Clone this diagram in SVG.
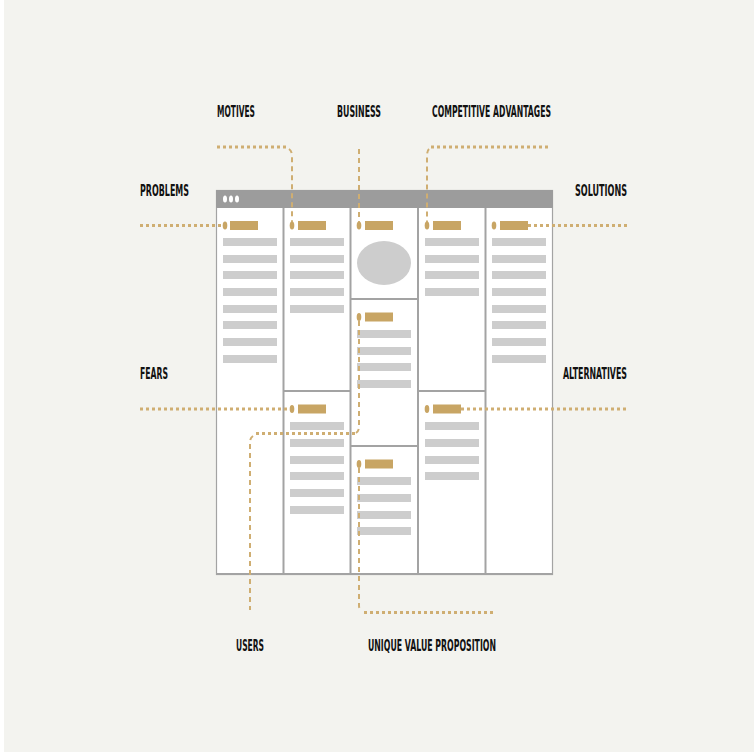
<svg xmlns="http://www.w3.org/2000/svg" width="754" height="753" viewBox="0 0 754 753">
<style>
.lbl{font-family:"DejaVu Sans Condensed","DejaVu Sans","Liberation Sans",sans-serif;font-weight:bold;font-size:16.5px;fill:#111}
.bar{fill:#cdcdcd}
.tag{fill:#c8a564}
.dot{fill:#c8a564}
.col{fill:#ffffff;stroke:#a3a3a3;stroke-width:1.2}
.div{stroke:#a3a3a3;stroke-width:2;fill:none}
.h{fill:none;stroke:#cfae72;stroke-width:3;stroke-dasharray:3 3}
.v{fill:none;stroke:#cfae72;stroke-width:2;stroke-dasharray:5 4}
</style>
<rect x="4" y="0" width="750" height="752" fill="#f3f3ef"/>

<g id="window">
  <rect x="216.5" y="190.5" width="336" height="384" class="col"/>
  <rect x="216" y="190" width="337" height="18" fill="#9c9c9c" rx="1"/>
  <ellipse cx="225" cy="199" rx="2" ry="3.5" fill="#fff"/>
  <ellipse cx="231" cy="199" rx="2" ry="3.5" fill="#fff"/>
  <ellipse cx="237" cy="199" rx="2" ry="3.5" fill="#fff"/>
  <line x1="283.5" y1="208" x2="283.5" y2="574" class="div" stroke-width="1.2"/>
  <line x1="350.5" y1="208" x2="350.5" y2="574" class="div" stroke-width="1.2"/>
  <line x1="418" y1="208" x2="418" y2="574" class="div" stroke-width="1.2"/>
  <line x1="485.5" y1="208" x2="485.5" y2="574" class="div" stroke-width="1.2"/>
  <line x1="283" y1="391" x2="350" y2="391" class="div"/>
  <line x1="350" y1="299" x2="418" y2="299" class="div"/>
  <line x1="350" y1="446" x2="418" y2="446" class="div"/>
  <line x1="418" y1="391" x2="485" y2="391" class="div"/>
  <line x1="216" y1="574" x2="553" y2="574" class="div"/>
</g>

<g id="col1">
  <ellipse cx="225" cy="225.5" rx="2.3" ry="4" class="dot"/>
  <rect x="230" y="221" width="28" height="9" class="tag"/>
  <rect x="223" y="238" width="54" height="8" class="bar"/>
  <rect x="223" y="255" width="54" height="8" class="bar"/>
  <rect x="223" y="271" width="54" height="8" class="bar"/>
  <rect x="223" y="288" width="54" height="8" class="bar"/>
  <rect x="223" y="305" width="54" height="8" class="bar"/>
  <rect x="223" y="321" width="54" height="8" class="bar"/>
  <rect x="223" y="338" width="54" height="8" class="bar"/>
  <rect x="223" y="355" width="54" height="8" class="bar"/>
</g>

<g id="col2-top">
  <ellipse cx="292" cy="225.5" rx="2.3" ry="4" class="dot"/>
  <rect x="298" y="221" width="28" height="9" class="tag"/>
  <rect x="290" y="238" width="54" height="8" class="bar"/>
  <rect x="290" y="255" width="54" height="8" class="bar"/>
  <rect x="290" y="271" width="54" height="8" class="bar"/>
  <rect x="290" y="288" width="54" height="8" class="bar"/>
  <rect x="290" y="305" width="54" height="8" class="bar"/>
</g>

<g id="col2-bottom">
  <ellipse cx="292" cy="409" rx="2.3" ry="4" class="dot"/>
  <rect x="298" y="404.5" width="28" height="9" class="tag"/>
  <rect x="290" y="422" width="54" height="8" class="bar"/>
  <rect x="290" y="439" width="54" height="8" class="bar"/>
  <rect x="290" y="456" width="54" height="8" class="bar"/>
  <rect x="290" y="472" width="54" height="8" class="bar"/>
  <rect x="290" y="489" width="54" height="8" class="bar"/>
  <rect x="290" y="506" width="54" height="8" class="bar"/>
</g>

<g id="col3-top">
  <ellipse cx="359" cy="225.5" rx="2.3" ry="4" class="dot"/>
  <rect x="365" y="221" width="28" height="9" class="tag"/>
  <ellipse cx="384" cy="263" rx="27" ry="22" fill="#cdcdcd"/>
</g>

<g id="col3-middle">
  <ellipse cx="359" cy="317" rx="2.3" ry="4" class="dot"/>
  <rect x="365" y="312.5" width="28" height="9" class="tag"/>
  <rect x="357" y="330" width="54" height="8" class="bar"/>
  <rect x="357" y="347" width="54" height="8" class="bar"/>
  <rect x="357" y="363" width="54" height="8" class="bar"/>
  <rect x="357" y="380" width="54" height="8" class="bar"/>
</g>

<g id="col3-bottom">
  <ellipse cx="359" cy="464" rx="2.3" ry="4" class="dot"/>
  <rect x="365" y="459.5" width="28" height="9" class="tag"/>
  <rect x="357" y="477" width="54" height="8" class="bar"/>
  <rect x="357" y="494" width="54" height="8" class="bar"/>
  <rect x="357" y="511" width="54" height="8" class="bar"/>
  <rect x="357" y="527" width="54" height="8" class="bar"/>
</g>

<g id="col4-top">
  <ellipse cx="427" cy="225.5" rx="2.3" ry="4" class="dot"/>
  <rect x="433" y="221" width="28" height="9" class="tag"/>
  <rect x="425" y="238" width="54" height="8" class="bar"/>
  <rect x="425" y="255" width="54" height="8" class="bar"/>
  <rect x="425" y="271" width="54" height="8" class="bar"/>
  <rect x="425" y="288" width="54" height="8" class="bar"/>
</g>

<g id="col4-bottom">
  <ellipse cx="427" cy="409" rx="2.3" ry="4" class="dot"/>
  <rect x="433" y="404.5" width="28" height="9" class="tag"/>
  <rect x="425" y="422" width="54" height="8" class="bar"/>
  <rect x="425" y="439" width="54" height="8" class="bar"/>
  <rect x="425" y="456" width="54" height="8" class="bar"/>
  <rect x="425" y="472" width="54" height="8" class="bar"/>
</g>

<g id="col5">
  <ellipse cx="494" cy="225.5" rx="2.3" ry="4" class="dot"/>
  <rect x="500" y="221" width="28" height="9" class="tag"/>
  <rect x="492" y="238" width="54" height="8" class="bar"/>
  <rect x="492" y="255" width="54" height="8" class="bar"/>
  <rect x="492" y="271" width="54" height="8" class="bar"/>
  <rect x="492" y="288" width="54" height="8" class="bar"/>
  <rect x="492" y="305" width="54" height="8" class="bar"/>
  <rect x="492" y="321" width="54" height="8" class="bar"/>
  <rect x="492" y="338" width="54" height="8" class="bar"/>
  <rect x="492" y="355" width="54" height="8" class="bar"/>
</g>

<g id="connectors">
  <line x1="140" y1="225.5" x2="222" y2="225.5" class="h"/>
  <line x1="217" y1="147" x2="288" y2="147" class="h"/>
  <path d="M289,149 Q292,151 292,156 L292,222" class="v"/>
  <line x1="359" y1="149" x2="359" y2="222" class="v"/>
  <line x1="431" y1="147" x2="551" y2="147" class="h"/>
  <path d="M429,149 Q427,151 427,156 L427,222" class="v"/>
  <line x1="528" y1="225.5" x2="627" y2="225.5" class="h"/>
  <line x1="140" y1="409" x2="289" y2="409" class="h"/>
  <line x1="461" y1="409" x2="627" y2="409" class="h"/>
  <path d="M359,321 L359,427 Q359,431 356,433" class="v"/>
  <line x1="355" y1="433.5" x2="254" y2="433.5" class="h"/>
  <path d="M253,436 Q250,438 250,442 L250,610" class="v"/>
  <path d="M359,468 L359,606 Q359,609 362,611" class="v"/>
  <line x1="364" y1="612.5" x2="496" y2="612.5" class="h"/>
</g>

<g id="labels">
  <text class="lbl" x="217" y="117" textLength="38" lengthAdjust="spacingAndGlyphs">MOTIVES</text>
  <text class="lbl" x="337" y="117" textLength="44" lengthAdjust="spacingAndGlyphs">BUSINESS</text>
  <text class="lbl" x="432" y="117" textLength="119" lengthAdjust="spacingAndGlyphs">COMPETITIVE ADVANTAGES</text>
  <text class="lbl" x="140" y="196" textLength="49" lengthAdjust="spacingAndGlyphs">PROBLEMS</text>
  <text class="lbl" x="575" y="196" textLength="52" lengthAdjust="spacingAndGlyphs">SOLUTIONS</text>
  <text class="lbl" x="140" y="379" textLength="28" lengthAdjust="spacingAndGlyphs">FEARS</text>
  <text class="lbl" x="563" y="379" textLength="64" lengthAdjust="spacingAndGlyphs">ALTERNATIVES</text>
  <text class="lbl" x="236" y="651" textLength="28" lengthAdjust="spacingAndGlyphs">USERS</text>
  <text class="lbl" x="368" y="651" textLength="128" lengthAdjust="spacingAndGlyphs">UNIQUE VALUE PROPOSITION</text>
</g>
</svg>
